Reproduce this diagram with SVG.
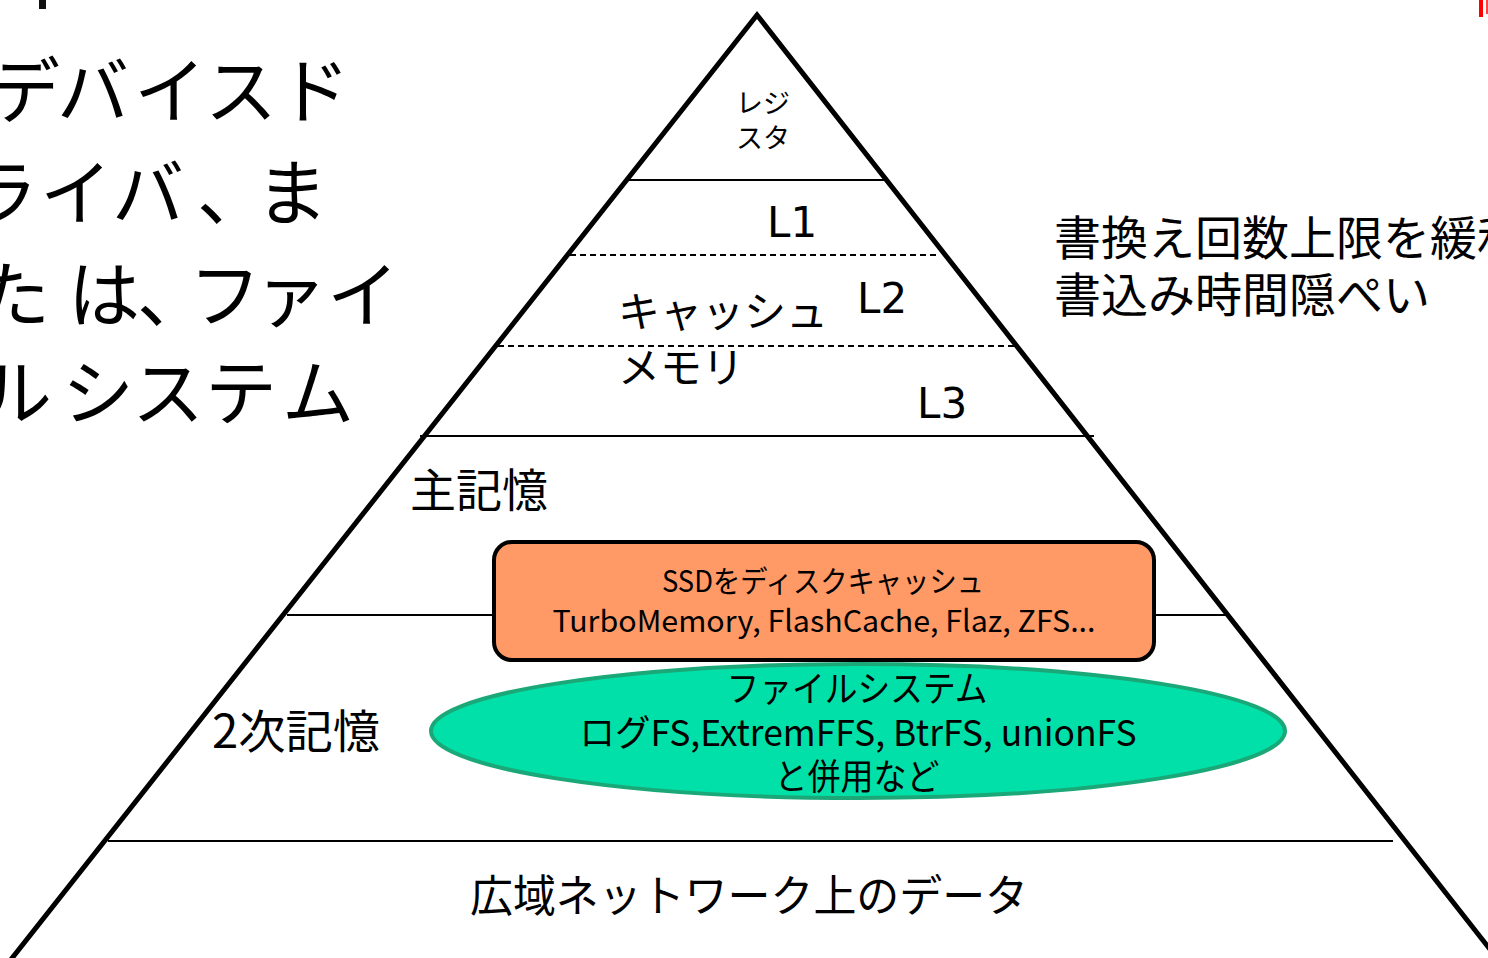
<svg xmlns="http://www.w3.org/2000/svg" width="1488" height="958" viewBox="0 0 1488 958">
<style>
.jp{font-family:"Noto Sans CJK JP","Noto Sans",sans-serif;fill:#000}
.lat{font-family:"DejaVu Sans","Noto Sans CJK JP",sans-serif;fill:#000}
.edge{stroke:#000;stroke-width:5;fill:none;stroke-linecap:round}
.tier{stroke:#000;stroke-width:2;fill:none}
.dash{stroke:#000;stroke-width:2;fill:none;stroke-dasharray:6 4}
</style>
<rect width="1488" height="958" fill="#fff"/>
<rect x="39" y="0" width="7" height="9" fill="#111"/>
<rect x="1479" y="0" width="4" height="17" fill="#f00"/>
<rect x="1486" y="0" width="2" height="14" fill="#f44"/>

<g id="side-text-left">
<text class="jp" font-size="72" x="-12 57 134 205 278" y="117">デバイスド</text>
<text class="jp" font-size="72" x="-34 40 112 197 256" y="219">ライバ、ま</text>
<text class="jp" font-size="72" x="-22 68 137 189 255 327" y="321">たは、ファイ</text>
<text class="jp" font-size="72" x="-20 62 132 205 282" y="419">ルシステム</text>
</g>

<g id="side-text-right">
<text class="jp" font-size="47" x="1054" y="255">書換え回数上限を緩和</text>
<text class="jp" font-size="47" x="1054" y="312">書込み時間隠ぺい</text>
</g>

<g id="pyramid">
<line class="tier" x1="628" y1="180" x2="885" y2="180"/>
<line class="dash" x1="570" y1="255" x2="940" y2="255"/>
<line class="dash" x1="498" y1="346" x2="1016" y2="346"/>
<line class="tier" x1="420" y1="436" x2="1094" y2="436"/>
<line class="tier" x1="287" y1="615" x2="1226" y2="615"/>
<line class="tier" x1="108" y1="841" x2="1393" y2="841"/>
<polyline class="edge" points="9,962 757,15 1500,962"/>
</g>

<g id="registers">
<text class="jp" font-size="27" text-anchor="middle" x="763" y="113">レジ</text>
<text class="jp" font-size="27" text-anchor="middle" x="763" y="148">スタ</text>
</g>
<g id="cache">
<text class="lat" font-size="42" x="767" y="237">L1</text>
<text class="lat" font-size="42" x="857" y="313">L2</text>
<text class="lat" font-size="42" x="917" y="418">L3</text>
<text class="jp" font-size="42" x="618" y="327">キャッシュ</text>
<text class="jp" font-size="42" x="618" y="383">メモリ</text>
</g>
<g id="main-memory">
<text class="jp" font-size="46" x="410" y="507">主記憶</text>
</g>
<g id="secondary-storage">
<text class="jp" font-size="46" x="212" y="748" textLength="168" lengthAdjust="spacingAndGlyphs">2次記憶</text>
</g>
<g id="network">
<text class="jp" font-size="44" text-anchor="middle" x="749" y="912" textLength="558" lengthAdjust="spacingAndGlyphs">広域ネットワーク上のデータ</text>
</g>

<g id="ssd-cache">
<rect x="494" y="542" width="660" height="118" rx="18" fill="#FF9966" stroke="#000" stroke-width="4"/>
<text class="jp" font-size="30" text-anchor="middle" x="823" y="592" textLength="322" lengthAdjust="spacingAndGlyphs">SSDをディスクキャッシュ</text>
<text class="jp" font-size="30" text-anchor="middle" x="824" y="632" textLength="543" lengthAdjust="spacingAndGlyphs">TurboMemory, FlashCache, Flaz, ZFS...</text>
</g>

<g id="filesystem">
<ellipse cx="858" cy="731" rx="427" ry="67" fill="#00E0A8" stroke="#1AA878" stroke-width="4"/>
<text class="jp" font-size="36" text-anchor="middle" x="857" y="702" textLength="261" lengthAdjust="spacingAndGlyphs">ファイルシステム</text>
<text class="jp" font-size="36" text-anchor="middle" x="858" y="746" textLength="557" lengthAdjust="spacingAndGlyphs">ログFS,ExtremFFS, BtrFS, unionFS</text>
<text class="jp" font-size="36" text-anchor="middle" x="857" y="790" textLength="165" lengthAdjust="spacingAndGlyphs">と併用など</text>
</g>
</svg>
